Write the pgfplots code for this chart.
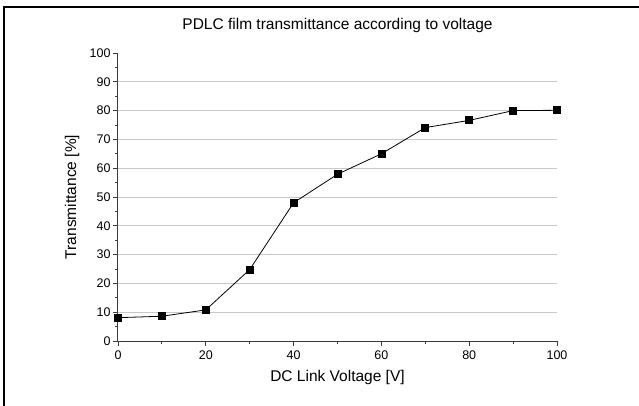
\documentclass[border=0pt]{standalone}
\usepackage{pgfplots}
\pgfplotsset{compat=1.18}
\usepackage{fontspec}
\setmainfont{Liberation Sans}
\definecolor{gridgray}{RGB}{200,200,200}
\definecolor{axisgray}{RGB}{60,60,60}

\pgfplotstableread{
x y
0 8.1
10 8.6
20 10.8
30 24.8
40 48.0
50 57.9
60 65.0
70 74.1
80 76.6
90 80.0
100 80.1
}\transdata

\begin{document}
\begin{tikzpicture}
\useasboundingbox (-118bp,-65bp) rectangle (521bp,341bp);
% outer frame (cut off at right and bottom)
\draw[line width=1.3bp, black] (-114bp,-70bp) -- (-114bp,334bp) -- (530bp,334bp);
\begin{axis}[
    scale only axis,
    width=439bp,
    height=288bp,
    xmin=0, xmax=100,
    ymin=0, ymax=100,
    axis lines=left,
    axis line style={-, axisgray, line width=1bp},
    xtick={0,20,...,100},
    minor xtick={10,30,...,90},
    ytick={0,10,...,100},
    minor ytick={5,15,...,95},
    extra y ticks={10,20,...,90},
    extra y tick labels={},
    extra y tick style={grid=major, major tick length=0pt},
    major grid style={gridgray, line width=0.9bp},
    tick align=outside,
    major tick length=5bp,
    minor tick length=3bp,
    tick style={axisgray, line width=0.8bp},
    ticklabel style={font=\fontsize{12.5bp}{14bp}\selectfont},
    /pgf/number format/assume math mode=true,
    xticklabel style={yshift=-1bp},
    yticklabel style={xshift=1bp},
    every axis title shift=0pt,
    title={PDLC film transmittance according to voltage},
    title style={font=\fontsize{15.5bp}{18bp}\selectfont, at={(axis description cs:0.5,1)}, anchor=center, yshift=28bp},
    xlabel={DC Link Voltage [V]},
    ylabel={Transmittance [\%]},
    label style={font=\fontsize{15.5bp}{18bp}\selectfont},
    xlabel style={at={([yshift=-36bp]axis description cs:0.5,0)}, anchor=center},
    ylabel style={at={([xshift=-46bp]axis description cs:0,0.5)}, anchor=center},
    clip=false,
]
\addplot[black, line width=0.8bp, mark=square*, mark size=3.5bp, mark options={solid, fill=black}] table[x=x, y=y] {\transdata};
\end{axis}
\end{tikzpicture}
\end{document}
